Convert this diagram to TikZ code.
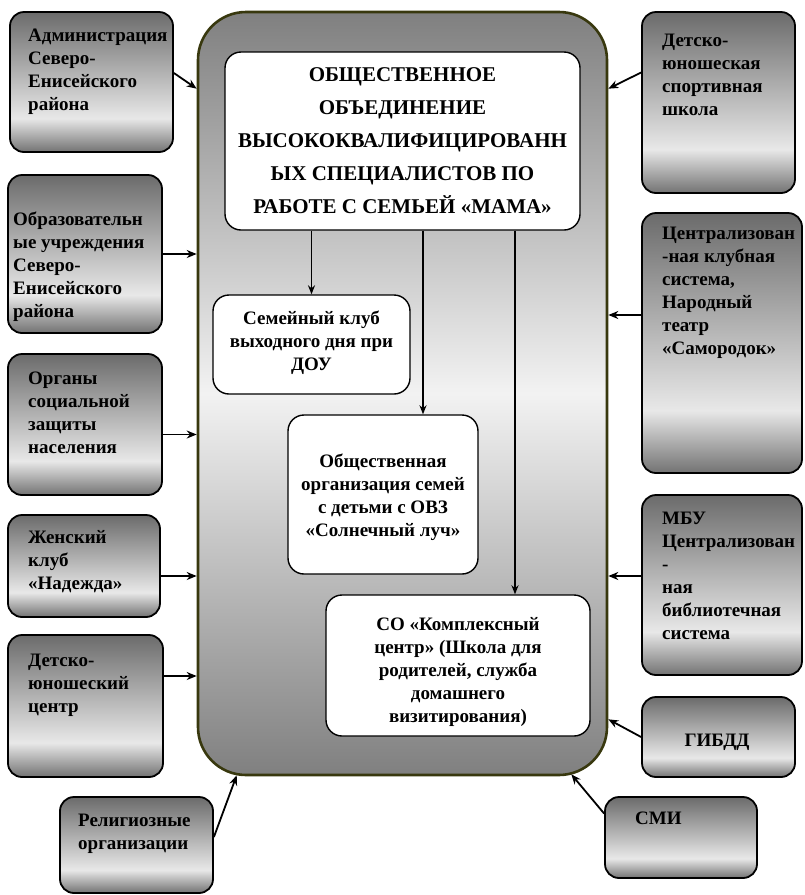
\documentclass[tikz,border=0pt]{standalone}
\usepackage{fontspec}
\setmainfont{Liberation Serif}
\usetikzlibrary{fit,arrows.meta}
\definecolor{hubrim}{RGB}{56,56,14}
\pgfdeclareverticalshading{orgfill}{100bp}{color(0bp)=(black!55); color(25bp)=(black!55); color(37bp)=(black!9); color(75bp)=(black!58); color(100bp)=(black!58)}
\pgfkeys{tikz/orgbox/.style={draw=black,line width=1.8pt,rounded corners=14pt,shading=orgfill,inner sep=0pt},
  tikz/orgtext/.style={anchor=north west,inner sep=0pt,align=left,font=\bfseries\fontsize{19}{23}\selectfont},
  tikz/hubbox/.style={draw=hubrim,line width=2.6pt,rounded corners=48pt,top color=black!50,bottom color=black!50,middle color=black!5,inner sep=0pt},
  tikz/unitbox/.style={draw=black,line width=1.4pt,rounded corners=16pt,fill=white,inner sep=0pt},
  tikz/unittext/.style={inner sep=0pt,align=center,font=\bfseries\fontsize{19}{23}\selectfont},
  tikz/feed/.style={line width=1.8pt,-{Stealth[length=10pt,width=8pt]}},
  tikz/drop/.style={line width=1.5pt,-{Stealth[length=9pt,width=7pt]}}}
\newcommand*\orgbox[6][]{\node [orgbox,fit={#3 #4}] (#2) {};
  \node [orgtext,#1] (#2-t) at #5 {#6};}
\newcommand*\unitbox[5][]{\node [unitbox,fit={#3 #4}] (#2) {};
  \node [unittext,#1] (#2-t) at (#2.center) {#5};}

\begin{document}
\begin{tikzpicture}[x=1pt,y=-1pt]
\useasboundingbox (0,0) rectangle (804,895);

% central block
\node [hubbox,fit={(198,12)(607,775)}] (hub) {};
\unitbox[font=\bfseries\fontsize{21}{33}\selectfont]{head}{(225,52)}{(580,230)}
  {ОБЩЕСТВЕННОЕ\\ОБЪЕДИНЕНИЕ\\ВЫСОКОКВАЛИФИЦИРОВАНН\\ЫХ СПЕЦИАЛИСТОВ ПО\\РАБОТЕ С СЕМЬЕЙ «МАМА»}
\unitbox[yshift=2pt]{club}{(213,295)}{(410,394)}{Семейный клуб\\выходного дня при\\ДОУ}
\unitbox[yshift=-3pt]{sun}{(288,415)}{(478,574)}{Общественная\\организация семей\\с детьми с ОВЗ\\«Солнечный луч»}
\unitbox[yshift=-6pt]{kc}{(326,595)}{(590,736)}{СО «Комплексный\\центр» (Школа для\\родителей, служба\\домашнего\\визитирования)}

\draw [drop] (club.north |- head.south) -- (club.north);
\draw [drop] ([xshift=40pt]sun.north |- head.south) -- ([xshift=40pt]sun.north);
\draw [drop] ([xshift=57pt]kc.north |- head.south) -- ([xshift=57pt]kc.north);

% left side
\orgbox{adm}{(10,12)}{(173,152)}{(28,29)}{Администрация\\Северо-\\Енисейского\\района}
\orgbox{edu}{(8,175)}{(162,333)}{(13,212)}{Образовательн\\ые учреждения\\Северо-\\Енисейского\\района}
\orgbox{soc}{(8,354)}{(162,495)}{(28,372)}{Органы\\социальной\\защиты\\населения}
\orgbox{women}{(8,515)}{(160,617)}{(28,530)}{Женский\\клуб\\«Надежда»}
\orgbox{djc}{(8,635)}{(163,777)}{(28,654)}{Детско-\\юношеский\\центр}
\orgbox{relig}{(60,797)}{(213,893)}{(78,814)}{Религиозные\\организации}

% right side
\orgbox{sport}{(642,12)}{(795,193)}{(662,34)}{Детско-\\юношеская\\спортивная\\школа}
\orgbox{cks}{(642,213)}{(802,473)}{(662,227)}{Централизован\\-ная клубная\\система,\\Народный\\театр\\«Самородок»}
\orgbox{lib}{(642,495)}{(802,675)}{(662,512)}{МБУ\\Централизован\\-\\ная\\библиотечная\\система}
\orgbox[anchor=center]{gibdd}{(642,697)}{(795,777)}{(717,742)}{ГИБДД}
\orgbox{smi}{(605,797)}{(757,878)}{(635,812)}{СМИ}

\draw [feed] ([yshift=9pt]adm.east) -- ([yshift=-78pt]hub.north west);
\draw [feed] (edu.east) -- (edu.east -| hub.west);
\draw [feed] ([yshift=-10pt]soc.east) -- ([yshift=-10pt]soc.east -| hub.west);
\draw [feed] ([yshift=-10pt]women.east) -- ([yshift=-10pt]women.east -| hub.west);
\draw [feed] ([yshift=30pt]djc.east) -- ([yshift=30pt]djc.east -| hub.west);
\draw [feed] ([yshift=8pt]relig.east) -- ([xshift=40pt,yshift=1pt]hub.south west);

\draw [feed] ([yshift=30pt]sport.west) -- ([yshift=-78pt]hub.north east);
\draw [feed] ([yshift=28pt]cks.west) -- ([yshift=28pt]cks.west -| hub.east);
\draw [feed] ([yshift=9pt]lib.west) -- ([yshift=9pt]lib.west -| hub.east);
\draw [feed] (gibdd.west) -- ([yshift=57pt]hub.south east);
\draw [feed] ([yshift=24pt]smi.west) -- ([xshift=-37pt,yshift=2pt]hub.south east);
\end{tikzpicture}
\end{document}
